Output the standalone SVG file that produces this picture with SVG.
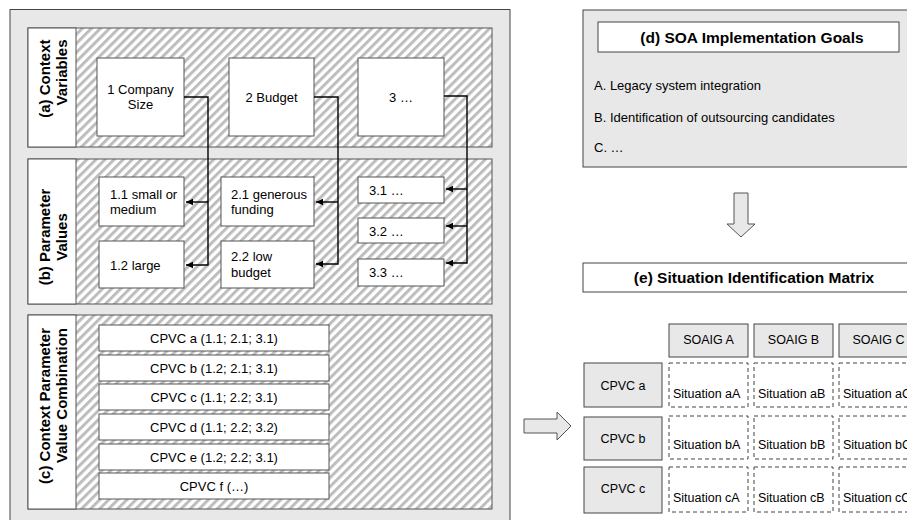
<svg xmlns="http://www.w3.org/2000/svg" width="907" height="520" viewBox="0 0 907 520">
<defs>
<pattern id="hatch" patternUnits="userSpaceOnUse" width="6.4" height="6.4" patternTransform="rotate(45)">
<rect width="6.4" height="6.4" fill="#ffffff"/>
<rect width="3" height="6.4" fill="#bdbdbd"/>
</pattern>
<marker id="arr" markerWidth="8" markerHeight="8" refX="7" refY="4" orient="auto" markerUnits="userSpaceOnUse">
<path d="M0,0.8 L7,4 L0,7.2 z" fill="#000"/>
</marker>
<style>
text{font-family:"Liberation Sans",Arial,sans-serif;fill:#000}
.panel{fill:#e8e8e8;stroke:#444;stroke-width:1}
.sec{fill:url(#hatch);stroke:#555;stroke-width:1}
.lab{fill:#fff;stroke:#555;stroke-width:1}
.box{fill:#fff;stroke:#555;stroke-width:1}
.gbox{fill:#e8e8e8;stroke:#444;stroke-width:1}
.cell{fill:#fff;stroke:#444;stroke-width:1;stroke-dasharray:4 3}
.t{font-size:13px}
.m{font-size:12.5px}
.c{text-anchor:middle}
.b{font-weight:bold;font-size:15px}
.h{font-weight:bold;font-size:15.5px;text-anchor:middle}
.con{fill:none;stroke:#000;stroke-width:1.4}
.big{fill:#e8e8e8;stroke:#555;stroke-width:1}
</style>
</defs>
<rect width="907" height="520" fill="#fff"/>

<g id="left-panel">
<rect class="panel" x="10" y="9.5" width="500" height="530"/>
</g>

<g id="section-a">
<rect class="sec" x="28" y="28" width="464" height="119"/>
<rect class="lab" x="28" y="28" width="48" height="119"/>
<text class="b" text-anchor="end" transform="translate(50,39.5) rotate(-90)">(a) Context</text>
<text class="b" text-anchor="end" transform="translate(67,39.5) rotate(-90)">Variables</text>
</g>
<g id="section-b">
<rect class="sec" x="28" y="159" width="464" height="145"/>
<rect class="lab" x="28" y="159" width="48" height="145"/>
<text class="b c" transform="translate(50,237) rotate(-90)">(b) Parameter</text>
<text class="b c" transform="translate(67,237) rotate(-90)">Values</text>
</g>
<g id="section-c">
<rect class="sec" x="28" y="315" width="464" height="194"/>
<rect class="lab" x="28" y="315" width="48" height="194"/>
<text class="b" text-anchor="end" transform="translate(50,328) rotate(-90)">(c) Context Parameter</text>
<text class="b" text-anchor="end" transform="translate(67,328) rotate(-90)">Value Combination</text>
</g>

<g id="cv1"><rect class="box" x="97" y="58" width="87" height="78"/><text class="t c" x="140.5" y="94">1 Company</text><text class="t c" x="140.5" y="109">Size</text></g>
<g id="cv2"><rect class="box" x="229" y="58" width="85" height="78"/><text class="t c" x="271.5" y="102">2 Budget</text></g>
<g id="cv3"><rect class="box" x="358" y="58" width="86" height="78"/><text class="t c" x="401" y="102">3 …</text></g>

<g id="pv11"><rect class="box" x="99" y="177" width="85" height="49"/><text class="t" x="110" y="199">1.1 small or</text><text class="t" x="110" y="214">medium</text></g>
<g id="pv12"><rect class="box" x="99" y="241" width="85" height="47"/><text class="t" x="110" y="270">1.2 large</text></g>
<g id="pv21"><rect class="box" x="221" y="177" width="93" height="49"/><text class="t" x="231" y="199">2.1 generous</text><text class="t" x="231" y="214">funding</text></g>
<g id="pv22"><rect class="box" x="221" y="241" width="93" height="47"/><text class="t" x="231" y="261">2.2 low</text><text class="t" x="231" y="277">budget</text></g>
<g id="pv31"><rect class="box" x="358" y="177" width="86" height="26"/><text class="t" x="369" y="195">3.1 …</text></g>
<g id="pv32"><rect class="box" x="358" y="218" width="86" height="25"/><text class="t" x="369" y="236">3.2 …</text></g>
<g id="pv33"><rect class="box" x="358" y="259" width="86" height="27"/><text class="t" x="369" y="277">3.3 …</text></g>

<g id="cpvc-a"><rect class="box" x="99" y="325" width="230" height="26"/><text class="t c" x="214" y="342.5">CPVC a (1.1; 2.1; 3.1)</text></g>
<g id="cpvc-b"><rect class="box" x="99" y="355" width="230" height="26"/><text class="t c" x="214" y="372.5">CPVC b (1.2; 2.1; 3.1)</text></g>
<g id="cpvc-c"><rect class="box" x="99" y="384" width="230" height="26"/><text class="t c" x="214" y="401.5">CPVC c (1.1; 2.2; 3.1)</text></g>
<g id="cpvc-d"><rect class="box" x="99" y="414" width="230" height="26"/><text class="t c" x="214" y="431.5">CPVC d (1.1; 2.2; 3.2)</text></g>
<g id="cpvc-e"><rect class="box" x="99" y="444" width="230" height="26"/><text class="t c" x="214" y="461.5">CPVC e (1.2; 2.2; 3.1)</text></g>
<g id="cpvc-f"><rect class="box" x="99" y="473" width="230" height="26"/><text class="t c" x="214" y="490.5">CPVC f (…)</text></g>

<g id="goals">
<rect class="panel" x="583" y="10" width="340" height="157"/>
<rect class="box" x="598" y="22" width="301" height="30" style="stroke:#444"/>
<text class="h" x="752" y="43">(d) SOA Implementation Goals</text>
<text class="t" x="594" y="90">A. Legacy system integration</text>
<text class="t" x="594" y="122">B. Identification of outsourcing candidates</text>
<text class="t" x="594" y="152">C. …</text>
</g>

<g id="matrix-title">
<rect class="box" x="583" y="263" width="340" height="29" style="stroke:#444"/>
<text class="h" x="754" y="283">(e) Situation Identification Matrix</text>
</g>

<g id="soaig-a"><rect class="gbox" x="669" y="324" width="79" height="33"/><text class="m c" x="708.5" y="344">SOAIG A</text></g>
<g id="soaig-b"><rect class="gbox" x="754" y="324" width="79" height="33"/><text class="m c" x="793.5" y="344">SOAIG B</text></g>
<g id="soaig-c"><rect class="gbox" x="839" y="324" width="79" height="33"/><text class="m c" x="878.5" y="344">SOAIG C</text></g>

<g id="row-a"><rect class="gbox" x="584" y="363" width="78" height="44"/><text class="m c" x="623" y="390">CPVC a</text></g>
<g id="row-b"><rect class="gbox" x="584" y="417" width="78" height="43"/><text class="m c" x="623" y="443">CPVC b</text></g>
<g id="row-c"><rect class="gbox" x="584" y="467" width="78" height="46"/><text class="m c" x="623" y="493">CPVC c</text></g>

<g id="cells">
<rect class="cell" x="669" y="363" width="79" height="44"/><text class="m" x="673" y="398">Situation aA</text>
<rect class="cell" x="754" y="363" width="79" height="44"/><text class="m" x="758" y="398">Situation aB</text>
<rect class="cell" x="839" y="363" width="79" height="44"/><text class="m" x="843" y="398">Situation aC</text>
<rect class="cell" x="669" y="416" width="79" height="43"/><text class="m" x="673" y="449">Situation bA</text>
<rect class="cell" x="754" y="416" width="79" height="43"/><text class="m" x="758" y="449">Situation bB</text>
<rect class="cell" x="839" y="416" width="79" height="43"/><text class="m" x="843" y="449">Situation bC</text>
<rect class="cell" x="669" y="467" width="79" height="45"/><text class="m" x="673" y="502">Situation cA</text>
<rect class="cell" x="754" y="467" width="79" height="45"/><text class="m" x="758" y="502">Situation cB</text>
<rect class="cell" x="839" y="467" width="79" height="45"/><text class="m" x="843" y="502">Situation cC</text>
</g>

<g id="connectors">
<polyline class="con" points="184,97 208,97 208,265 186,265" marker-end="url(#arr)"/>
<line class="con" x1="208" y1="202" x2="186" y2="202" marker-end="url(#arr)"/>
<polyline class="con" points="314,97 338,97 338,264 316,264" marker-end="url(#arr)"/>
<line class="con" x1="338" y1="202" x2="316" y2="202" marker-end="url(#arr)"/>
<polyline class="con" points="444,96 467,96 467,263 446,263" marker-end="url(#arr)"/>
<line class="con" x1="467" y1="189" x2="446" y2="189" marker-end="url(#arr)"/>
<line class="con" x1="467" y1="226" x2="446" y2="226" marker-end="url(#arr)"/>
<path class="big" d="M734,193 H748 V224 H755 L741,237 L727,224 H734 Z"/>
<path class="big" d="M524,419 H557 V412 L571,426 L557,440 V433 H524 Z"/>
</g>
</svg>
